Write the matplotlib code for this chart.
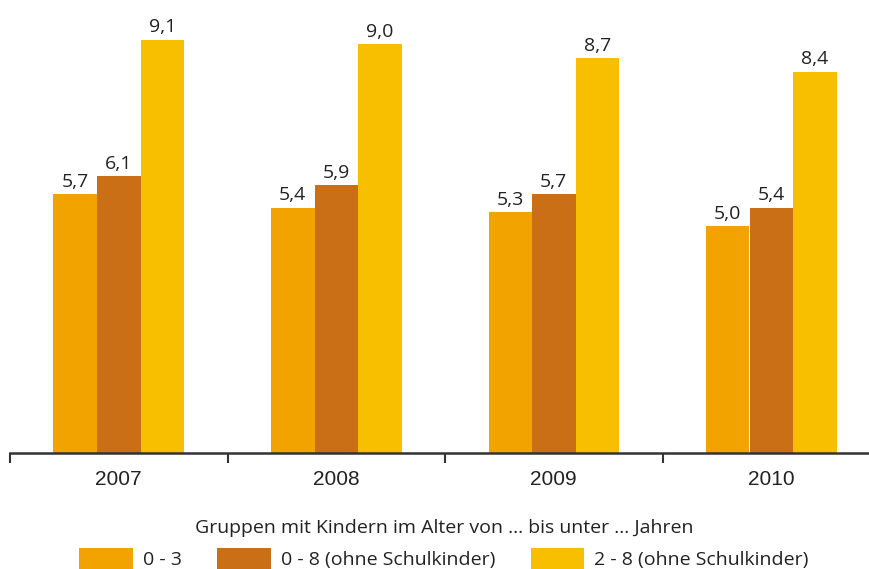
import matplotlib
matplotlib.use("Agg")
import matplotlib.pyplot as plt
import numpy as np

years = ["2007", "2008", "2009", "2010"]
series_names = ["0 - 3", "0 - 8 (ohne Schulkinder)", "2 - 8 (ohne Schulkinder)"]
v_0_3 = [5.7, 5.4, 5.3, 5.0]
v_0_8 = [6.1, 5.9, 5.7, 5.4]
v_2_8 = [9.1, 9.0, 8.7, 8.4]
colors = ["#F2A300", "#CA6F15", "#F7BF00"]

W, H = 870, 569
fig = plt.figure(figsize=(W / 100, H / 100), dpi=100)
# axes: x from 10 px to 880 px, y from 453 px (baseline) up to 0
ax = fig.add_axes([10 / W, (H - 453) / H, 870 / W, 453 / H])

x = np.arange(len(years))
bw = 0.2
label_font = "Open Sans"
for i, (vals, c, name) in enumerate(zip([v_0_3, v_0_8, v_2_8], colors, series_names)):
    pos = x + (i - 1) * bw
    bars = ax.bar(pos, vals, width=bw, color=c, label=name, linewidth=0)
    for xp, v in zip(pos, vals):
        ax.annotate(f"{v:.1f}".replace(".", ","), (xp, v), xytext=(0, 2.5),
                    textcoords="offset points", ha="center", va="bottom",
                    fontsize=14, color="#222222", family=label_font)

ax.set_xlim(-0.5, 3.5)
ax.set_ylim(0, 453 / 45.4)
for s in ["top", "right", "left"]:
    ax.spines[s].set_visible(False)
ax.spines["bottom"].set_color("#333333")
ax.spines["bottom"].set_linewidth(1.8)
ax.set_yticks([])
ax.set_xticks([-0.5, 0.5, 1.5, 2.5, 3.5])
ax.set_xticklabels([])
ax.set_xticks(x, minor=True)
ax.set_xticklabels(years, minor=True, fontsize=15, family="Liberation Sans", color="#222222")
ax.tick_params(axis="x", which="major", length=7, width=1.5, color="#333333", direction="out")
ax.tick_params(axis="x", which="minor", length=0, pad=12)

handles, labels = ax.get_legend_handles_labels()
leg = fig.legend(handles, labels, ncol=3, loc="upper center",
                 bbox_to_anchor=(444 / W, 1 - 519 / H), frameon=False,
                 title="Gruppen mit Kindern im Alter von ... bis unter ... Jahren",
                 prop={"family": label_font, "size": 14},
                 title_fontproperties={"family": label_font, "size": 14},
                 handlelength=2.75, handleheight=1.3, handletextpad=0.5,
                 columnspacing=1.85, labelspacing=0.55, borderaxespad=0, borderpad=0)
for t in leg.get_texts():
    t.set_color("#222222")
leg.get_title().set_color("#222222")

fig.savefig("out.png", dpi=100)
